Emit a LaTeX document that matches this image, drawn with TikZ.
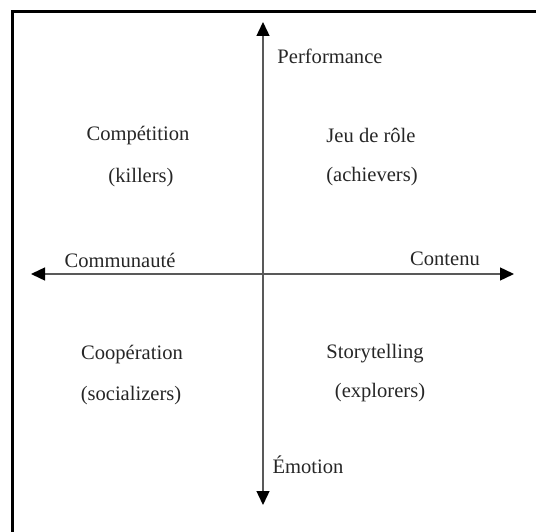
\documentclass[tikz,border=0pt]{standalone}
\usepackage{fontspec}
\setmainfont{Liberation Serif}
\usetikzlibrary{arrows.meta}

\begin{document}
\begin{tikzpicture}[x=0.2mm,y=-0.2mm,
  lbl/.style={inner sep=0pt,text=black!85,font=\fontsize{11.7}{14}\selectfont},
  axis/.style={line width=0.28mm,draw=black!65,-{Triangle[length=2.8mm,width=2.6mm,color=black]}}]
\useasboundingbox (0,0) rectangle (536,532);
\draw[line width=0.6mm] (12,532) -- (12,12) -- (536,12);

\coordinate (o) at (263,274);
\coordinate (top) at (263,22);
\coordinate (bot) at (263,505);
\coordinate (left) at (31,274);
\coordinate (right) at (514,274);

\node[lbl] (perf) at (330,56) {Performance};
\node[lbl] (emo) at (308,465) {Émotion};
\node[lbl] (comm) at (120,260) {Communauté};
\node[lbl] (cont) at (445,259) {Contenu};

\node[lbl] (comp) at (138,136) {Compétition};
\node[lbl] (kill) at (141,178) {(killers)};
\node[lbl] (jeu) at (371,135) {Jeu de rôle};
\node[lbl] (achi) at (372,177) {(achievers)};
\node[lbl] (coop) at (132,355) {Coopération};
\node[lbl] (soci) at (131,396) {(socializers)};
\node[lbl] (story) at (375,354) {Storytelling};
\node[lbl] (expl) at (380,393) {(explorers)};

\draw[axis] (o) -- (top);
\draw[axis] (o) -- (bot);
\draw[axis] (o) -- (left);
\draw[axis] (o) -- (right);
\end{tikzpicture}
\end{document}
